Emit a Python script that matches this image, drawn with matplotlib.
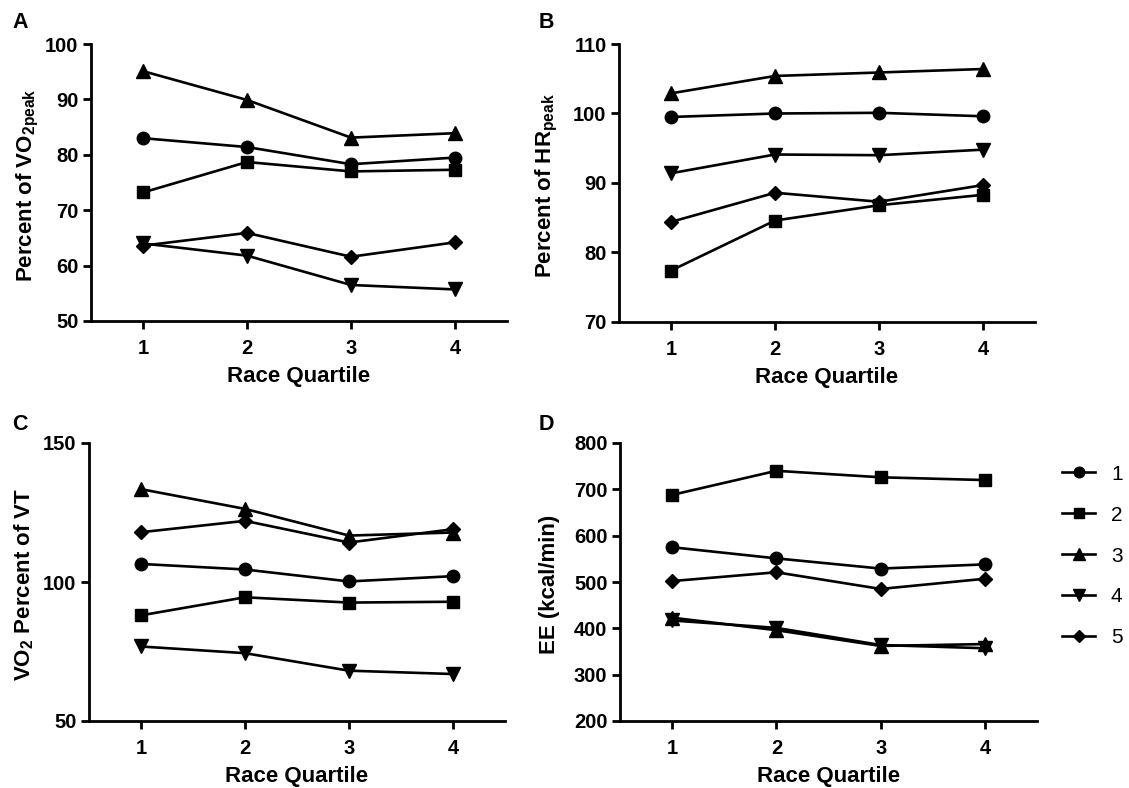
import matplotlib
matplotlib.use('Agg')
import matplotlib.pyplot as plt

plt.rcParams['font.family'] = ['Liberation Sans', 'DejaVu Sans']
plt.rcParams['mathtext.fontset'] = 'custom'
plt.rcParams['mathtext.rm'] = 'Liberation Sans:bold'
plt.rcParams['mathtext.bf'] = 'Liberation Sans:bold'

quartiles = [1, 2, 3, 4]
groups = ['1', '2', '3', '4', '5']
markers = ['o', 's', '^', 'v', 'D']
msizes = [9, 8.5, 10, 10, 7]

# panel A: percent of VO2peak
vo2peak = {
    '1': [83.0, 81.4, 78.3, 79.5],
    '2': [73.2, 78.7, 77.0, 77.3],
    '3': [95.1, 89.9, 83.1, 83.9],
    '4': [64.0, 61.8, 56.5, 55.7],
    '5': [63.6, 65.9, 61.6, 64.2],
}
# panel B: percent of HRpeak
hrpeak = {
    '1': [99.5, 100.0, 100.1, 99.6],
    '2': [77.4, 84.6, 86.8, 88.3],
    '3': [102.9, 105.4, 105.9, 106.4],
    '4': [91.4, 94.1, 94.0, 94.8],
    '5': [84.4, 88.6, 87.3, 89.7],
}
# panel C: VO2 percent of VT
vo2_vt = {
    '1': [106.5, 104.5, 100.2, 102.1],
    '2': [88.0, 94.5, 92.6, 92.9],
    '3': [133.4, 126.3, 116.7, 117.8],
    '4': [76.8, 74.4, 68.1, 66.9],
    '5': [117.9, 122.0, 114.2, 119.0],
}
# panel D: energy expenditure
ee = {
    '1': [575, 551, 529, 538],
    '2': [688, 740, 726, 720],
    '3': [423, 396, 362, 366],
    '4': [417, 401, 364, 357],
    '5': [502, 521, 485, 507],
}

fig = plt.figure(figsize=(11.29, 7.88), dpi=100)

W, H = 1129.0, 788.0
def add_ax(l, r, t, b):
    return fig.add_axes([l / W, 1 - b / H, (r - l) / W, (b - t) / H])

axA = add_ax(91, 507, 44, 321)
axB = add_ax(619, 1035, 44, 322)
axC = add_ax(89, 505, 443, 721)
axD = add_ax(620, 1037, 443, 721)

panels = [
    (axA, vo2peak, (50, 100), [50, 60, 70, 80, 90, 100], r'Percent of VO$_{\mathrm{2peak}}$', 'A', (12, 22), -0.12),
    (axB, hrpeak, (70, 110), [70, 80, 90, 100, 110], r'Percent of HR$_{\mathrm{peak}}$', 'B', (539, 22), -0.142),
    (axC, vo2_vt, (50, 150), [50, 100, 150], r'VO$_{\mathrm{2}}$ Percent of VT', 'C', (12, 425), -0.127),
    (axD, ee, (200, 800), [200, 300, 400, 500, 600, 700, 800], 'EE (kcal/min)', 'D', (539, 425), -0.144),
]

for ax, data, ylim, yticks, ylabel, letter, lpos, ylx in panels:
    for g, m, ms in zip(groups, markers, msizes):
        ax.plot(quartiles, data[g], color='black', lw=1.9, marker=m, ms=ms,
                markeredgecolor='black', markerfacecolor='black', label=g, clip_on=False)
    ax.set_xlim(0.5, 4.5)
    ax.set_ylim(*ylim)
    ax.set_xticks(quartiles)
    ax.set_yticks(yticks)
    ax.spines['top'].set_visible(False)
    ax.spines['right'].set_visible(False)
    ax.spines['left'].set_linewidth(2)
    ax.spines['bottom'].set_linewidth(2)
    ax.tick_params(width=2, length=6, labelsize=14.5, pad=3)
    ax.tick_params(axis='x', pad=7)
    for lab in ax.get_xticklabels() + ax.get_yticklabels():
        lab.set_fontweight('bold')
    ax.set_xlabel('Race Quartile', fontsize=16, fontweight='bold', labelpad=6)
    ax.set_ylabel(ylabel, fontsize=16, fontweight='bold')
    ax.yaxis.set_label_coords(ylx, 0.49)
    fig.text(lpos[0] / W, 1 - lpos[1] / H, letter, fontsize=15.5, fontweight='bold',
             ha='left', va='center')

handles, labels = axD.get_legend_handles_labels()
fig.legend(handles, labels, loc='center left', bbox_to_anchor=(1062 / W, 1 - 556 / H),
           frameon=False, fontsize=15, handlelength=1.6, labelspacing=1.05, handletextpad=0.75,
           borderaxespad=0, borderpad=0, markerscale=0.85)

fig.savefig('out.png', dpi=100)
